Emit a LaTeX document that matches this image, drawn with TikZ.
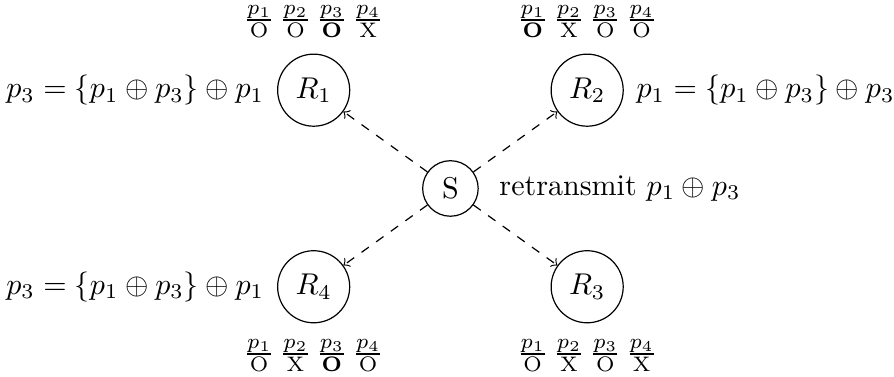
\documentclass[tikz,border=0pt]{standalone}
\usepackage{amsmath, amssymb}
\usetikzlibrary{arrows,positioning}

\begin{document}
\begin{tikzpicture}[every node/.style={circle}]
			\useasboundingbox (-5.27, -2.205) rectangle (5.19, 2.205);
			\node [draw] (S) at (0.0, 0.0) {S};
			\node [draw] (R1) at (-1.6, 1.15) {$R_1$};
			\node [draw] (R2) at (1.6, 1.15) {$R_2$};
			\node [draw] (R3) at (1.6, -1.15) {$R_3$};
			\node [draw] (R4) at (-1.6, -1.15) {$R_4$};
			\draw [dashed] [->] (S) -- (R1);
			\draw [dashed] [->] (S) -- (R2);
			\draw [dashed] [->] (S) -- (R3);
			\draw [dashed] [->] (S) -- (R4);
			\node [right=0.1 of S] (txS) {retransmit $p_1 \oplus p_3$};
			\node [left=0 of R1] (tx1) {$p_3 = \{p_1 \oplus p_3\} \oplus p_1$};
			\node [right=0 of R2] (tx2) {$p_1 = \{p_1 \oplus p_3\} \oplus p_3$};
			\node [left=0 of R4] (tx4) {$p_3 = \{p_1 \oplus p_3\} \oplus p_1$};
			\node [above=0.06 of R1, rectangle] (t1) {$\frac{p_1}{\mathrm{O}}\,\frac{p_2}{\mathrm{O}}\,\frac{p_3}{\mathbf{O}}\,\frac{p_4}{\mathrm{X}}$};
			\node [above=0.06 of R2, rectangle] (t2) {$\frac{p_1}{\mathbf{O}}\,\frac{p_2}{\mathrm{X}}\,\frac{p_3}{\mathrm{O}}\,\frac{p_4}{\mathrm{O}}$};
			\node [below=0.06 of R3, rectangle] (t3) {$\frac{p_1}{\mathrm{O}}\,\frac{p_2}{\mathrm{X}}\,\frac{p_3}{\mathrm{O}}\,\frac{p_4}{\mathrm{X}}$};
			\node [below=0.06 of R4, rectangle] (t4) {$\frac{p_1}{\mathrm{O}}\,\frac{p_2}{\mathrm{X}}\,\frac{p_3}{\mathbf{O}}\,\frac{p_4}{\mathrm{O}}$};
\end{tikzpicture}
\end{document}
